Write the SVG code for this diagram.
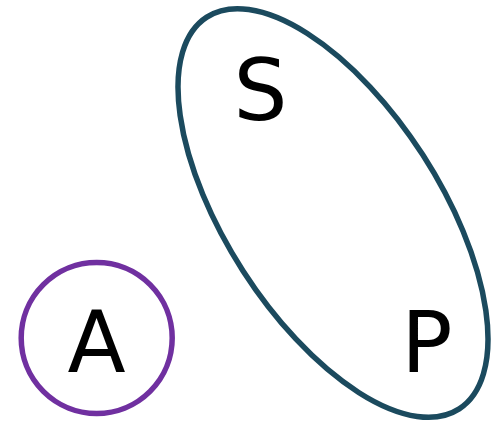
<svg xmlns="http://www.w3.org/2000/svg" width="497" height="422" viewBox="0 0 497 422">
<style>
.lbl{font-family:"DejaVu Sans",sans-serif;font-size:85px;fill:#000;text-anchor:middle}
</style>
<rect width="497" height="422" fill="#fff"/>
<g id="set-SP">
<ellipse cx="333" cy="213" rx="233" ry="107" transform="rotate(57.2 333 213)" fill="none" stroke="#1b4a5e" stroke-width="5.5"/>
<text class="lbl" x="260.5" y="120">S</text>
<text class="lbl" x="427" y="372">P</text>
</g>
<g id="node-A">
<circle cx="96.7" cy="338" r="75.5" fill="none" stroke="#7030a0" stroke-width="5.5"/>
<text class="lbl" x="96.7" y="372">A</text>
</g>
<g id="connectors"></g>
</svg>
